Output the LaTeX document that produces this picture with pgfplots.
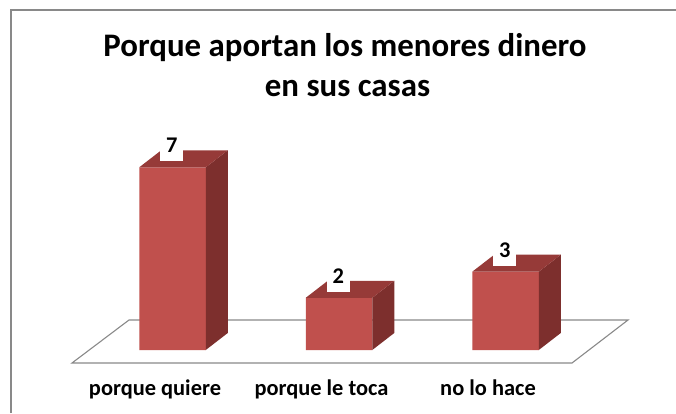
\documentclass[border=0pt]{standalone}
\usepackage{fontspec}
\setmainfont{Carlito}
\usepackage{pgfplots}
\pgfplotsset{compat=1.18}
\definecolor{barfront}{RGB}{192,80,77}
\definecolor{barside}{RGB}{125,47,45}
\definecolor{bartop}{RGB}{150,58,56}
\definecolor{framegray}{RGB}{137,137,137}
\pgfdeclareplotmark{barside}{%
  \pgfsetfillcolor{barside}%
  \pgfpathmoveto{\pgfpoint{33.25bp}{0bp}}%
  \pgfpathlineto{\pgfpoint{55.25bp}{17bp}}%
  \pgfpathlineto{\pgfpoint{55.25bp}{17bp-\barval*26.1bp}}%
  \pgfpathlineto{\pgfpoint{33.25bp}{0bp-\barval*26.1bp}}%
  \pgfpathclose
  \pgfusepath{fill}%
  \pgfsetfillcolor{bartop}%
  \pgfpathmoveto{\pgfpoint{-33.25bp}{0bp}}%
  \pgfpathlineto{\pgfpoint{33.25bp}{0bp}}%
  \pgfpathlineto{\pgfpoint{55.25bp}{17bp}}%
  \pgfpathlineto{\pgfpoint{-11.25bp}{17bp}}%
  \pgfpathclose
  \pgfusepath{fill}%
}
\pgfplotstableread{
x y
0 7
1 2
2 3
}\datatable
\begin{document}
\begin{tikzpicture}[x=1bp,y=1bp]
% chart frame
\draw[framegray, line width=1.3bp] (11,0) -- (11,403) -- (676,403);
% floor
\draw[framegray, line width=1.1bp, fill=white] (72,50) -- (572,50) -- (628,93) -- (129,93) -- cycle;
\begin{axis}[
  at={(0,0)}, anchor=south west,
  scale only axis, width=676bp, height=413bp,
  xmin=-1.03604, xmax=3.02402,
  ymin=-2.41379, ymax=13.40996,
  clip=false,
  /pgf/number format/assume math mode=true,
  axis line style={draw=none},
  tick style={draw=none},
  ytick=\empty,
  xtick={0,1,2},
  xticklabels={porque quiere, porque le toca, no lo hace},
  xticklabel style={font=\fontsize{22.5}{26}\selectfont\bfseries, anchor=base, xshift=-17.5bp, yshift=17.3bp},
]
\addplot[ybar, bar width=66.5bp, fill=barfront, draw=none] table[x=x,y=y] {\datatable};
\addplot[only marks, mark=barside,
  visualization depends on={rawy \as \barval},
  nodes near coords,
  nodes near coords style={font=\fontsize{22.5}{26}\selectfont\bfseries, fill=white, anchor=base, yshift=14.3bp, xshift=-0.8bp, inner xsep=6bp, inner ysep=4.3bp, text depth=4bp, text=black},
] table[x=x,y=y] {\datatable};
\end{axis}
\node[anchor=base, font=\fontsize{33}{40}\selectfont\bfseries] at (345,356.3) {Porque aportan los menores dinero};
\node[anchor=base, font=\fontsize{33}{40}\selectfont\bfseries] at (347.5,316.3) {en sus casas};
\pgfresetboundingbox
\path[use as bounding box] (0,0) rectangle (676,413);
\end{tikzpicture}
\end{document}
